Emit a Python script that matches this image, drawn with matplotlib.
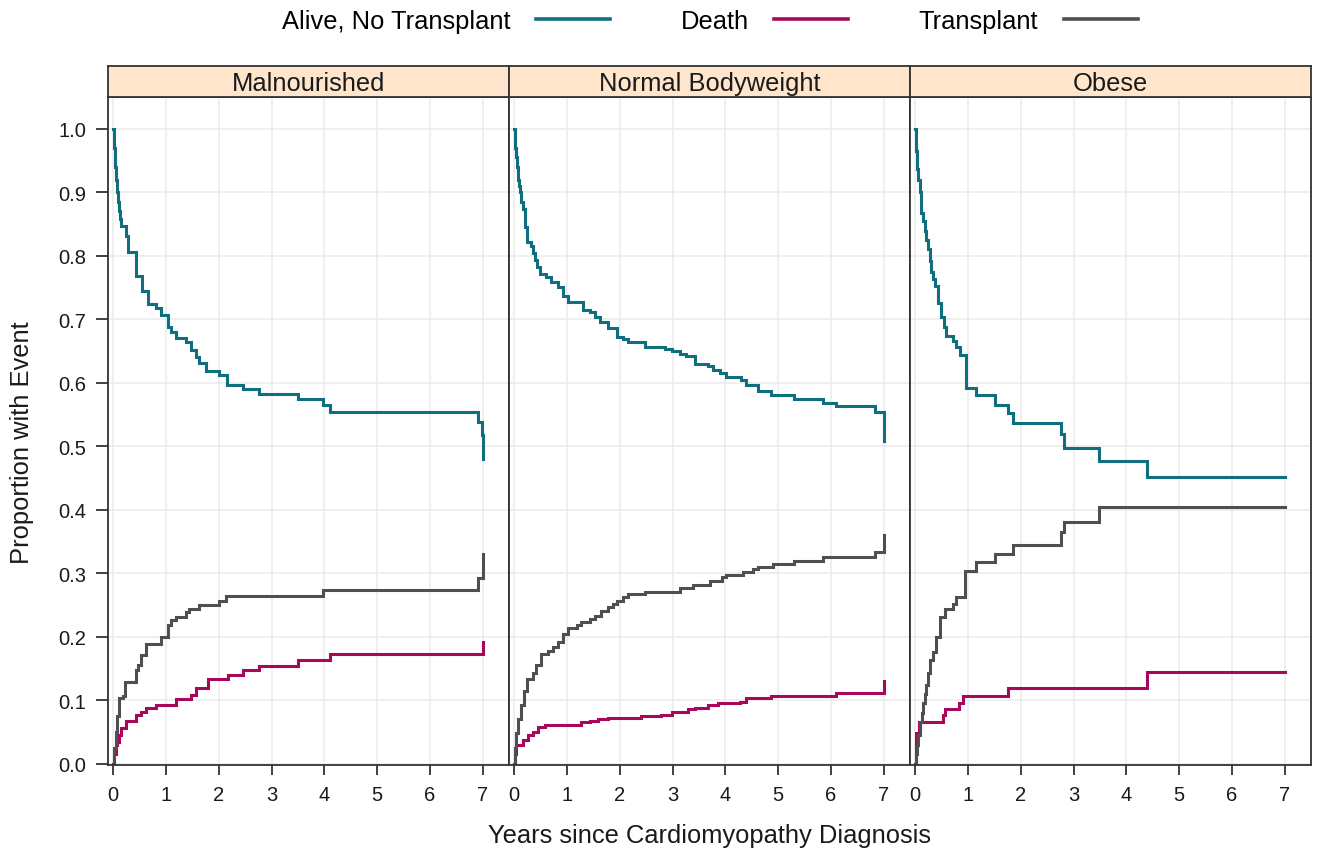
import matplotlib
matplotlib.use("Agg")
import matplotlib.pyplot as plt
from matplotlib.lines import Line2D

plt.rcParams['font.family'] = ['Liberation Sans', 'DejaVu Sans']

# ---------------- data ----------------
panels = ["Malnourished", "Normal Bodyweight", "Obese"]
series = ["Alive, No Transplant", "Death", "Transplant"]
colors = {"Alive, No Transplant": "#0f6f7e", "Death": "#a8085c", "Transplant": "#4f4f4f"}
x_ticks = [0, 1, 2, 3, 4, 5, 6, 7]
y_ticks = [0.0, 0.1, 0.2, 0.3, 0.4, 0.5, 0.6, 0.7, 0.8, 0.9, 1.0]

mal_alive_t = [0, 0.01, 0.02, 0.03, 0.04, 0.05, 0.06, 0.07, 0.08, 0.095, 0.11, 0.125, 0.145, 0.24, 0.27,
               0.43, 0.54, 0.65, 0.81, 0.905, 1.03, 1.095, 1.19, 1.38, 1.47, 1.57, 1.63, 1.76, 2.01,
               2.16, 2.46, 2.76, 3.51, 3.97, 4.1, 6.92, 6.98, 7.0]
mal_alive_p = [1.0, 0.985, 0.97, 0.955, 0.94, 0.93, 0.92, 0.91, 0.90, 0.885, 0.87, 0.858, 0.847, 0.831, 0.806,
               0.768, 0.745, 0.724, 0.717, 0.706, 0.687, 0.680, 0.670, 0.664, 0.652, 0.641, 0.631, 0.619, 0.612,
               0.597, 0.590, 0.582, 0.574, 0.565, 0.554, 0.538, 0.517, 0.480]
mal_death_t = [0, 0.02, 0.05, 0.08, 0.11, 0.145, 0.24, 0.43, 0.53, 0.62, 0.81, 1.19, 1.47, 1.57, 1.79,
               2.17, 2.46, 2.76, 3.51, 4.1, 7.0]
mal_death_p = [0.0, 0.015, 0.03, 0.035, 0.045, 0.056, 0.067, 0.076, 0.082, 0.088, 0.093, 0.102, 0.108, 0.119, 0.133,
               0.139, 0.147, 0.154, 0.163, 0.173, 0.192]
mal_tx_t = [0, 0.02, 0.05, 0.08, 0.11, 0.18, 0.23, 0.43, 0.47, 0.53, 0.62, 0.905, 1.03, 1.095, 1.19, 1.38,
            1.44, 1.63, 2.01, 2.14, 3.97, 6.92, 7.0]
mal_tx_p = [0.0, 0.025, 0.05, 0.075, 0.103, 0.107, 0.129, 0.148, 0.155, 0.171, 0.189, 0.200, 0.218, 0.226, 0.231, 0.239,
            0.244, 0.250, 0.257, 0.264, 0.273, 0.292, 0.331]

nor_alive_t = [0, 0.01, 0.02, 0.035, 0.05, 0.065, 0.08, 0.09, 0.104, 0.135, 0.167, 0.21, 0.25, 0.325, 0.36,
               0.40, 0.44, 0.483,
               0.61, 0.70, 0.83, 0.925, 1.02, 1.30, 1.43, 1.525, 1.62, 1.78, 1.94, 2.06, 2.16, 2.47, 2.85,
               2.98, 3.14, 3.26, 3.42, 3.67, 3.77, 3.89, 4.02, 4.30, 4.40, 4.62, 4.87, 5.31, 5.85, 6.10,
               6.84, 7.0]
nor_alive_p = [1.0, 0.985, 0.97, 0.955, 0.94, 0.93, 0.92, 0.91, 0.90, 0.885, 0.873, 0.845, 0.821, 0.816, 0.805,
               0.793, 0.782, 0.771,
               0.766, 0.758, 0.750, 0.737, 0.727, 0.715, 0.712, 0.703, 0.695, 0.686, 0.672, 0.669, 0.664, 0.656, 0.653,
               0.650, 0.645, 0.642, 0.629, 0.627, 0.620, 0.615, 0.609, 0.605, 0.596, 0.587, 0.581, 0.574, 0.568, 0.563,
               0.554, 0.509]
nor_death_t = [0, 0.02, 0.041, 0.167, 0.26, 0.357, 0.45, 0.58, 1.27, 1.43, 1.59, 1.78, 2.41, 2.79, 2.98,
               3.29, 3.42, 3.67, 3.86, 4.27, 4.40, 4.87, 6.10, 7.0]
nor_death_p = [0.0, 0.015, 0.029, 0.037, 0.046, 0.050, 0.058, 0.061, 0.065, 0.067, 0.070, 0.072, 0.075, 0.077, 0.082,
               0.086, 0.088, 0.092, 0.095, 0.097, 0.103, 0.106, 0.112, 0.131]
nor_tx_t = [0, 0.02, 0.04, 0.073, 0.136, 0.19, 0.25, 0.357, 0.42, 0.50, 0.64, 0.735, 0.83, 0.925, 1.02, 1.18,
            1.27, 1.43, 1.525, 1.65, 1.78, 1.87, 1.94, 2.06, 2.16, 2.47, 3.14, 3.39, 3.70, 3.93, 4.02,
            4.34, 4.53, 4.62, 4.90, 5.31, 5.85, 6.84, 7.0]
nor_tx_p = [0.0, 0.025, 0.048, 0.071, 0.092, 0.115, 0.134, 0.143, 0.155, 0.173, 0.177, 0.184, 0.191, 0.205, 0.214, 0.218,
            0.223, 0.228, 0.233, 0.240, 0.247, 0.251, 0.257, 0.262, 0.267, 0.271, 0.277, 0.282, 0.287, 0.294, 0.298,
            0.302, 0.306, 0.310, 0.315, 0.320, 0.325, 0.334, 0.361]

obe_alive_t = [0, 0.02, 0.041, 0.06, 0.085, 0.117, 0.15, 0.18, 0.21, 0.243, 0.27, 0.294, 0.338, 0.382, 0.433,
               0.483, 0.546, 0.59, 0.717, 0.78, 0.843, 0.957, 1.16, 1.507, 1.76, 1.853, 2.77, 2.82, 3.48,
               4.40, 7.0]
obe_alive_p = [1.0, 0.965, 0.936, 0.92, 0.90, 0.868, 0.855, 0.839, 0.825, 0.810, 0.792, 0.774, 0.763, 0.753, 0.726,
               0.703, 0.687, 0.674, 0.666, 0.656, 0.644, 0.591, 0.580, 0.565, 0.552, 0.537, 0.519, 0.498, 0.477,
               0.451, 0.451]
obe_death_t = [0, 0.008, 0.017, 0.08, 0.527, 0.57, 0.824, 0.906, 1.76, 4.40, 7.0]
obe_death_p = [0.0, 0.03, 0.048, 0.066, 0.076, 0.086, 0.096, 0.107, 0.120, 0.145, 0.145]
obe_tx_t = [0, 0.02, 0.04, 0.06, 0.085, 0.118, 0.148, 0.18, 0.21, 0.243, 0.275, 0.338, 0.40, 0.464, 0.56,
            0.717, 0.78, 0.938, 1.16, 1.507, 1.853, 2.77, 2.82, 3.48, 7.0]
obe_tx_p = [0.0, 0.015, 0.03, 0.046, 0.066, 0.08, 0.095, 0.11, 0.124, 0.143, 0.163, 0.176, 0.200, 0.231, 0.243,
            0.252, 0.263, 0.304, 0.318, 0.331, 0.345, 0.365, 0.381, 0.404, 0.404]

panel_data = {
    "Malnourished": {"Alive, No Transplant": (mal_alive_t, mal_alive_p),
                     "Death": (mal_death_t, mal_death_p),
                     "Transplant": (mal_tx_t, mal_tx_p)},
    "Normal Bodyweight": {"Alive, No Transplant": (nor_alive_t, nor_alive_p),
                          "Death": (nor_death_t, nor_death_p),
                          "Transplant": (nor_tx_t, nor_tx_p)},
    "Obese": {"Alive, No Transplant": (obe_alive_t, obe_alive_p),
              "Death": (obe_death_t, obe_death_p),
              "Transplant": (obe_tx_t, obe_tx_p)},
}

# ---------------- layout ----------------
W, H = 1320, 854
fig = plt.figure(figsize=(W / 100, H / 100), dpi=100)

frame_col = "#333333"
grid_col = "#ebebeb"
strip_col = "#ffe5cc"
left_px, panel_w_px = 108, 401
top_px, bottom_px, strip_h_px = 98, 766, 31

main_fs = 18.4
tick_fs = 14.5

for i, name in enumerate(panels):
    lx = (left_px + i * panel_w_px) / W
    ax = fig.add_axes([lx, (H - bottom_px) / H, panel_w_px / W, (bottom_px - top_px) / H])
    ax.set_xlim(-0.1, 7.5)
    ax.set_ylim(-0.002, 1.05)
    ax.set_xticks(x_ticks)
    ax.set_yticks(y_ticks)
    ax.grid(True, color=grid_col, linewidth=1.1)
    ax.set_axisbelow(True)
    for sp in ax.spines.values():
        sp.set_color(frame_col)
        sp.set_linewidth(1.3)
    ax.tick_params(axis='x', direction='out', length=7.5, width=1.3, color=frame_col,
                   labelsize=tick_fs, pad=7, labelcolor="#1a1a1a")
    if i == 0:
        ax.tick_params(axis='y', direction='out', length=8.5, width=1.3, color=frame_col,
                       labelsize=tick_fs, pad=7, labelcolor="#1a1a1a")
        ax.set_yticklabels([f"{v:.1f}" for v in y_ticks])
    else:
        ax.tick_params(axis='y', length=0, labelleft=False)
    for s in series:
        t, p = panel_data[name][s]
        ax.step(t, p, where='post', color=colors[s], linewidth=2.2, solid_joinstyle='miter')

    sax = fig.add_axes([lx, (H - top_px) / H, panel_w_px / W, strip_h_px / H])
    sax.set_facecolor(strip_col)
    sax.set_xticks([])
    sax.set_yticks([])
    for sp in sax.spines.values():
        sp.set_color(frame_col)
        sp.set_linewidth(1.3)
    sax.text(0.5, 0.45, name, ha='center', va='center', fontsize=main_fs,
             color="#1a1a1a", transform=sax.transAxes)

fig.text((left_px + 1.5 * panel_w_px) / W, 1 - 836 / H, "Years since Cardiomyopathy Diagnosis",
         ha='center', va='center', fontsize=main_fs, color="#1a1a1a")
fig.text(22 / W, 1 - 443 / H, "Proportion with Event", rotation=90,
         ha='center', va='center', fontsize=main_fs, color="#1a1a1a")

handles = [Line2D([], [], color=colors[s], linewidth=2.6) for s in series]
fig.legend(handles, series, loc='center', bbox_to_anchor=(710 / W, 1 - 22 / H), ncol=3,
           markerfirst=False, frameon=False, fontsize=main_fs, handlelength=2.9,
           handletextpad=1.0, columnspacing=2.75, borderpad=0)

fig.savefig("out.png", dpi=100)
